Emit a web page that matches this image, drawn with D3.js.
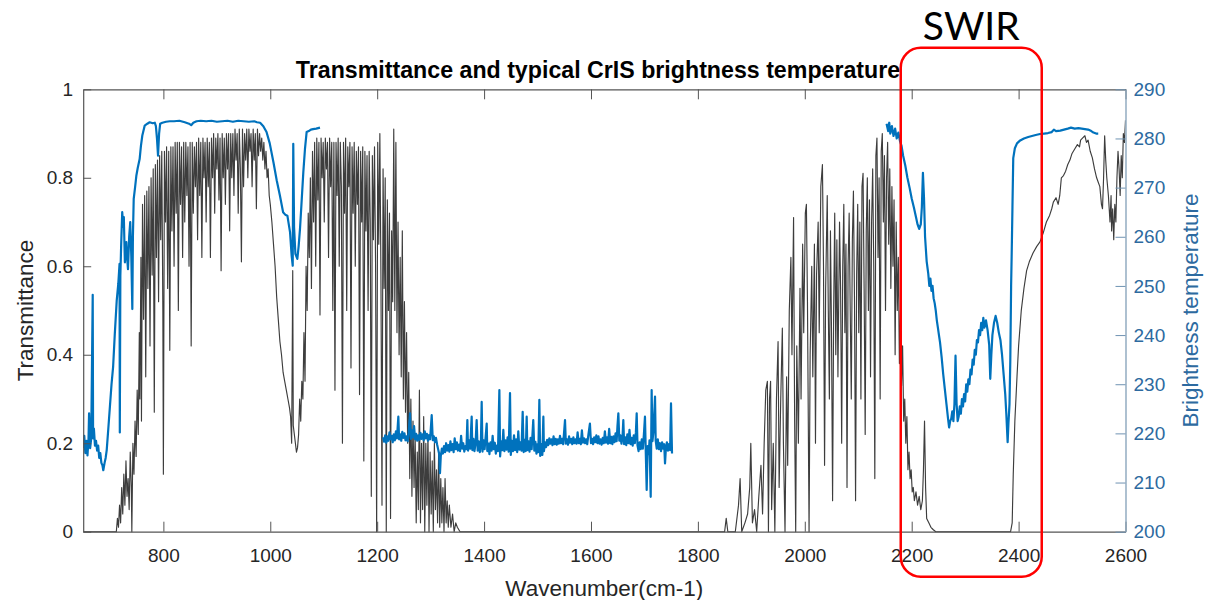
<!DOCTYPE html>
<html><head><meta charset="utf-8">
<script src="https://cdn.jsdelivr.net/npm/d3@7"></script>
<style>body{margin:0;background:#fff} svg{display:block}</style>
</head><body>
<svg id="chart" width="1206" height="600"></svg>
<script>
// ---------------- data ----------------
const titleText = "Transmittance and typical CrIS brightness temperature";
const xLabelText = "Wavenumber(cm-1)";
const yLeftLabelText = "Transmittance";
const yRightLabelText = "Brightness temperature";
const annotationText = "SWIR";
const xDomain = [650, 2600];
const yLeftDomain = [0, 1];
const yRightDomain = [200, 290];
const xTicks = [800, 1000, 1200, 1400, 1600, 1800, 2000, 2200, 2400, 2600];
const yLeftTicks = [0, 0.2, 0.4, 0.6, 0.8, 1];
const yRightTicks = [200, 210, 220, 230, 240, 250, 260, 270, 280, 290];
const swirRange = [2179.5, 2443.3]; // wavenumber span of the SWIR box

// Transmittance [wavenumber, T]
const transmittance = [
[650,0],[710,0],[712,0.0],[714,0.03],[716,0.01],[718,0.06],[720,0.02],[722,0.1],[724,0.04],[726,0.13],[728,0.06],[730,0.16],[732,0.08],[734,0.12],[736,0.05],[738,0.18],[740,0.1],[741,0.0],[743,0.2],[745,0.13],[747,0.25],[749,0.17],[751,0.32],[753,0.22],[755,0.45],[756,0.3],[758,0.62],[759,0.25],[761,0.74],[763,0.48],[765,0.76],[767,0.35],[769,0.77],[771,0.55],[773,0.78],[775,0.42],[777,0.8],[779,0.58],[781,0.82],[783,0.27],[785,0.83],[787,0.62],[789,0.84],[791,0.52],[793,0.85],[795,0.66],[797,0.86],[799,0.5],[800,0.13],
[802,0.86],[804,0.7],[806,0.87],[808,0.55],[810,0.86],[812,0.41],[814,0.87],[816,0.68],[818,0.87],[820,0.6],[822,0.88],[824,0.72],[826,0.88],[828,0.5],[830,0.88],[832,0.74],[834,0.87],[836,0.62],[838,0.88],[840,0.7],[842,0.88],[844,0.76],[846,0.87],[848,0.6],[850,0.88],[852,0.42],[854,0.88],[856,0.72],[858,0.87],[860,0.78],[862,0.88],[864,0.66],[866,0.89],[868,0.76],[870,0.88],[872,0.62],[874,0.89],[876,0.8],[878,0.88],[880,0.7],[882,0.89],[884,0.78],[886,0.88],[888,0.62],[890,0.89],[892,0.8],[894,0.9],[896,0.72],[898,0.89],[900,0.82],
[902,0.9],[904,0.75],[906,0.89],[908,0.59],[910,0.9],[912,0.8],[914,0.89],[916,0.74],[918,0.9],[920,0.82],[922,0.9],[924,0.68],[926,0.9],[928,0.8],[930,0.9],[932,0.76],[934,0.91],[936,0.84],[938,0.9],[940,0.72],[942,0.91],[944,0.82],[946,0.61],[948,0.91],[950,0.78],[952,0.9],[954,0.84],[956,0.91],[958,0.8],[960,0.91],[962,0.86],[964,0.9],[966,0.78],[968,0.91],[970,0.84],[972,0.9],[974,0.73],[976,0.91],[978,0.85],[980,0.9],[982,0.86],[984,0.89],[986,0.84],[988,0.88],[990,0.82],[992,0.86],[994,0.8],[996,0.82],[998,0.76],[1000,0.74],
[1003,0.7],[1006,0.65],[1009,0.6],[1012,0.53],[1015,0.48],[1018,0.43],[1021,0.4],[1024,0.36],[1027,0.34],[1030,0.32],[1033,0.3],[1036,0.28],[1038,0.26],[1040,0.2],[1042,0.59],[1043,0.24],[1045,0.22],[1047,0.2],[1049,0.18],[1051,0.19],[1053,0.22],[1055,0.3],[1057,0.25],[1059,0.34],[1061,0.3],[1063,0.45],[1065,0.34],[1067,0.6],[1069,0.5],[1071,0.72],[1073,0.62],[1075,0.8],[1077,0.55],[1079,0.86],[1081,0.7],[1083,0.88],
[1085,0.6],[1087,0.89],[1089,0.75],[1091,0.88],[1093,0.49],[1095,0.89],[1097,0.8],[1099,0.88],[1101,0.7],[1103,0.89],[1105,0.82],[1107,0.88],[1109,0.62],[1111,0.89],[1113,0.78],[1115,0.88],[1117,0.5],[1119,0.88],[1121,0.32],[1123,0.88],[1125,0.76],[1127,0.89],[1129,0.6],[1131,0.88],[1133,0.78],[1135,0.2],[1137,0.88],[1139,0.72],[1141,0.89],[1143,0.5],[1145,0.87],[1147,0.78],[1149,0.88],[1151,0.37],[1153,0.87],[1155,0.72],[1157,0.88],[1159,0.6],[1161,0.86],[1163,0.74],[1165,0.87],[1167,0.31],[1169,0.86],[1171,0.7],[1173,0.87],[1175,0.16],[1177,0.86],[1179,0.68],[1181,0.85],[1183,0.5],[1185,0.86],[1187,0.7],[1189,0.08],[1191,0.85],[1193,0.66],[1195,0.87],[1197,0.6],[1199,0.0],
[1201,0.88],[1203,0.65],[1205,0.9],[1207,0.58],[1209,0.06],[1211,0.82],[1213,0.55],[1215,0.8],[1217,0.0],[1219,0.75],[1221,0.5],[1223,0.72],[1225,0.03],[1227,0.68],[1229,0.52],[1231,0.91],[1233,0.5],[1235,0.88],[1237,0.45],[1239,0.7],[1241,0.4],[1243,0.62],[1245,0.35],[1247,0.68],[1249,0.3],[1251,0.52],[1253,0.27],[1255,0.45],[1257,0.2],[1259,0.36],[1261,0.12],[1263,0.3],[1265,0.08],[1267,0.25],[1269,0.1],[1271,0.22],[1273,0.02],[1275,0.18],[1277,0.05],[1279,0.32],[1281,0.02],[1283,0.2],[1285,0.05],[1287,0.26],[1289,0.0],[1291,0.2],[1293,0.06],[1295,0.22],[1297,0.0],[1299,0.18],
[1301,0.04],[1303,0.16],[1305,0.0],[1307,0.2],[1309,0.05],[1311,0.14],[1313,0.02],[1315,0.18],[1317,0.01],[1319,0.12],[1321,0.02],[1323,0.1],[1325,0.0],[1327,0.12],[1329,0.02],[1331,0.07],[1333,0.01],[1335,0.06],[1338,0.01],[1341,0.04],[1344,0.0],[1347,0.02],[1350,0.01],[1355,0.0],
[1850,0],[1853,0.03],[1856,0.0],[1870,0.0],[1876,0.06],[1879,0.12],[1882,0.0],[1888,0.02],[1893,0.04],[1897,0.1],[1899,0.2],[1902,0.02],[1906,0.05],[1910,0.0],[1914,0.08],[1918,0.15],[1921,0.04],[1924,0.2],[1927,0.32],[1930,0.34],[1932,0.0],[1934,0.3],[1936,0.34],[1938,0.05],[1941,0.2],[1944,0.0],[1947,0.3],[1950,0.43],[1952,0.1],[1955,0.3],[1958,0.46],[1960,0.2],[1963,0.0],[1966,0.35],[1968,0.15],[1971,0.5],[1974,0.62],[1976,0.4],[1979,0.71],[1981,0.25],[1983,0.0],[1985,0.42],[1988,0.2],[1991,0.55],[1993,0.3],[1996,0.65],[1998,0.45],
[2001,0.72],[2003,0.74],[2005,0.52],[2008,0.0],[2010,0.4],[2013,0.6],[2015,0.35],[2018,0.65],[2020,0.2],[2022,0.58],[2025,0.7],[2027,0.45],[2030,0.78],[2033,0.83],[2035,0.6],[2037,0.15],[2039,0.55],[2042,0.76],[2044,0.5],[2046,0.3],[2048,0.68],[2050,0.45],[2052,0.07],[2054,0.5],[2056,0.72],[2058,0.4],[2060,0.66],[2062,0.35],[2065,0.7],[2067,0.55],[2069,0.2],[2071,0.6],[2073,0.74],[2075,0.45],[2077,0.65],[2079,0.1],[2081,0.6],[2083,0.72],[2085,0.5],[2087,0.3],[2089,0.66],[2091,0.77],[2093,0.52],[2095,0.07],[2097,0.58],[2099,0.74],
[2101,0.45],[2103,0.7],[2105,0.3],[2107,0.78],[2109,0.81],[2111,0.55],[2113,0.22],[2115,0.68],[2117,0.8],[2119,0.5],[2121,0.75],[2123,0.35],[2125,0.7],[2127,0.82],[2129,0.6],[2131,0.12],[2133,0.85],[2135,0.89],[2137,0.62],[2139,0.8],[2141,0.3],[2143,0.86],[2145,0.9],[2147,0.7],[2149,0.85],[2151,0.5],[2153,0.8],[2155,0.88],[2157,0.65],[2159,0.82],[2161,0.55],[2163,0.78],[2165,0.6],[2167,0.75],[2169,0.4],[2171,0.7],[2173,0.5],[2175,0.62],[2177,0.38],[2179,0.5],[2181,0.33],[2183,0.42],[2185,0.25],[2187,0.3],[2189,0.2],[2191,0.26],[2193,0.14],[2195,0.18],[2197,0.12],[2199,0.14],
[2201,0.09],[2203,0.1],[2205,0.07],[2208,0.09],[2211,0.06],[2214,0.08],[2217,0.05],[2220,0.07],[2222,0.14],[2224,0.25],[2226,0.1],[2228,0.03],[2232,0.02],[2236,0.01],[2240,0.005],[2245,0.0],
[2385,0],[2388,0.02],[2390,0.13],[2393,0.25],[2397,0.35],[2400,0.42],[2405,0.5],[2410,0.55],[2415,0.59],[2420,0.61],[2427,0.63],[2434,0.645],[2440,0.655],[2446,0.675],[2452,0.7],[2458,0.715],[2462,0.73],[2465,0.745],[2470,0.755],[2474,0.74],[2477,0.76],[2480,0.8],[2484,0.805],[2488,0.815],[2492,0.83],[2496,0.84],[2500,0.855],[2505,0.865],[2510,0.875],[2514,0.87],[2516,0.885],[2520,0.89],[2524,0.895],[2527,0.88],[2530,0.885],[2534,0.86],[2538,0.845],[2542,0.82],[2546,0.8],[2549,0.79],[2552,0.78],[2555,0.74],[2557,0.73],[2559,0.8],[2561,0.895],[2563,0.84],[2565,0.8],[2568,0.76],[2571,0.7],[2573,0.76],[2574,0.68],[2576,0.73],[2578,0.66],[2580,0.74],[2582,0.7],[2584,0.8],[2586,0.86],[2588,0.82],[2590,0.76],[2592,0.85],[2594,0.8],[2596,0.9],[2598,0.88],[2600,0.93]
];

// Brightness temperature segments [wavenumber, K]
const btLongwave = [
[650,217],[652,219.5],[654,216],[656,218.5],[658,215.5],[660,219],[661,224.1],[663,217],[665,219],[667.8,248.2],[668.5,219],[670,221],[672,217.5],[674,218.5],[676,216.5],[678,217.5],[680,215],[682,216],[684,214],[686,213.5],[687.6,212.5],[690,214],[692,215],[694,216.6],[697,221],[700,225.5],[703,230],[706,233.6],[709,240],[712.7,247],[715.7,250.5],[718,254.5],[718.5,220.2],[719.5,252],[721,258.2],[723,265],[725,262],[726,264],[728,254.8],[730.7,258.9],[732,256],[733.8,253.4],[736,260],[738,263],[740,256],[741.9,245.3],[743,260],[744.5,267.7],[747,270],[749.4,272.4],[752,274],[755.6,275.8],[758,278.5],[760.6,280.6],[765,282.6],[770,283],[774.4,283.3],[780,283.1],[784,283.2],[786,282.5],[788,280],[790,276.5],[792,281],[794,283],[798,283.2],[805,283.4],[812,283.5],[820,283.5],[830,283.6],[840,283.3],[848,283],[852,282.7],[856,283.2],[862,283.5],[870,283.6],[880,283.5],[890,283.6],[900,283.4],[910,283.5],[920,283.6],[930,283.4],[940,283.6],[950,283.5],[960,283.4],[970,283.5],[975,283.3],[981,283.2],[987,282.5],[993,281.3],[999,279],[1006,275.1],[1012,271.5],[1018,268.4],[1024,265],[1028,264.5],[1032,264.3],[1037,260.9],[1040,256.1],[1042,254.1],[1043,278.9],[1044.5,262],[1047,256.5],[1050.6,255.5],[1053,258],[1055.6,261.6],[1058,266],[1061.8,273.1],[1065,278],[1068,281.3],[1072,281.5],[1076,281.8],[1080,281.9],[1086,282],[1093,282.2]
];
const btMidwave = [
[1211,219.2],[1213,218.3],[1215,219.6],[1217,218.1],[1219,219.4],[1221,218.5],[1223,220.2],[1225,218.8],[1227,219.5],[1229,218.2],[1231,219.8],[1233,218.6],[1235,220.4],[1237,219],[1239.6,223.4],[1241,218.8],[1243,219.8],[1245,218.5],[1247,220.3],[1249,219.1],[1251,220],[1253,218.6],[1255,219.4],[1257,218.4],[1259,220.2],[1261.4,224.1],[1263,218.9],[1265,220.6],[1267,219.2],[1269,221.5],[1271,218.8],[1273,219.9],[1275,218.5],[1277,219.6],[1279,218.7],[1281,220.1],[1283,218.9],[1285,219.8],[1287,218.6],[1289,220.4],[1291,219],[1293,219.9],[1295,218.5],[1297,219.6],[1299,218.8],[1302,223.7],[1304,218.6],[1306,219.4],[1308,218.2],[1310,219.1],[1312,217.8],[1314,216.8],[1316,215.8],[1317.5,211.9],[1319,215.4],[1321,216.9],[1323,215.9],[1325,217.4],[1327,216.2],[1329,218],[1331,216.5],[1333,217.6],[1335,216.3],[1337,218.4],[1339,216.6],[1341,217.8],[1343,216.2],[1345,219],[1347,216.8],[1349,218.2],[1351,216.5],[1353,217.7],[1355,216.4],[1357,219.5],[1359,216.9],[1361,218],[1363,216.3],[1365,217.4],[1367,216.8],[1368.7,222.7],[1370,216.5],[1372,218.6],[1374,216.9],[1376.8,223.4],[1378,216.6],[1380,218.9],[1382,216.4],[1384,217.9],[1386.1,222.7],[1388,216.5],[1390,218.4],[1392,216.2],[1394,217.8],[1395.5,226.4],[1397,216.3],[1399,218.6],[1401,216.8],[1403,219.4],[1404.9,222],[1406,216.4],[1408,217.9],[1410,215.8],[1412,218.2],[1414,216.5],[1416,219.5],[1418,216.8],[1420,218.1],[1422,215.9],[1424,217.5],[1426,216.4],[1428.6,228.8],[1430,215.3],[1432,218.4],[1434,216.6],[1436,220.7],[1438,216.4],[1440,218.6],[1442,216.7],[1444,219.2],[1446,216.3],[1448.5,228.2],[1450,215.6],[1452,218.5],[1454,216.4],[1456,219.6],[1458,216.6],[1460,218.8],[1462,216.2],[1464,220.4],[1466,216.7],[1468,218.2],[1470,216.5],[1472.2,224.4],[1474,216.2],[1476,218.7],[1478,216.4],[1479.7,223.4],[1481,216.6],[1483,218.4],[1485,216.3],[1487,219.1],[1489,216.8],[1492,222.7],[1494,216.5],[1496,218.3],[1498,215.9],[1500,217.8],[1501.5,216.2],[1503.4,226.8],[1505,215.4],[1507,217.8],[1509,215.6],[1510.9,223.4],[1512,216.4],[1514,218.2],[1516,217.2],[1518,218.7],[1520,217.6],[1522,219],[1524,217.9],[1526,218.8],[1528,217.6],[1530,219.4],[1532,217.8],[1534,218.9],[1536,217.7],[1538,218.8],[1540,217.9],[1542,219.5],[1544,218],[1546,218.9],[1548,217.8],[1551.4,222.7],[1553,217.9],[1555,218.8],[1557,217.7],[1559,219.4],[1561,218.1],[1563,218.9],[1565,217.8],[1567,219.2],[1569,218],[1571,218.8],[1573,217.9],[1575,220.2],[1577,218],[1579,218.9],[1581,217.8],[1583,220.6],[1585,218.1],[1587,219],[1589,218],[1591,218.8],[1593,217.8],[1595,219.6],[1598,222],[1600,218],[1602,218.9],[1604,217.8],[1606,219.2],[1608,218.2],[1610,219.6],[1612,218],[1614,219.4],[1616,217.9],[1618,218.8],[1620,217.7],[1622,219.1],[1624,218],[1626,220.4],[1628,218.1],[1630,219.2],[1632,217.9],[1634,220.9],[1636,218],[1638,219.3],[1640,217.8],[1642,219.4],[1644,218.2],[1646,220],[1648,218.4],[1649.5,221.4],[1651.2,224.1],[1653,218.5],[1655,219.6],[1657,217.9],[1659,219.3],[1660.5,222.7],[1662,217.8],[1664,219.2],[1666,217.6],[1668,219.8],[1670,218],[1672,220.7],[1674,217.8],[1676,219.1],[1678,217.5],[1680,219.6],[1682,218],[1684,220.2],[1685.5,224.1],[1687,217.6],[1689,216.4],[1691,218.2],[1693,216.8],[1695,218.8],[1697,216.9],[1699,219.8],[1701,223.4],[1702.5,216.2],[1704.2,208.5],[1706,217.4],[1708,215.8],[1709.5,218.6],[1711.7,207.1],[1713.5,228.8],[1715,218.4],[1717,220.5],[1719.8,227.5],[1721,218.6],[1723,216.9],[1725,218.8],[1727,216.8],[1729,218],[1731,216.4],[1733,218.2],[1735,216.9],[1737,217.8],[1738.5,213.9],[1740,216.7],[1742,218.2],[1744,216.5],[1746,217.8],[1748,216.6],[1749.7,226.1],[1751.6,215.9]
];
const btShortwave = [
[2153,283],[2156,281.5],[2158,283.2],[2160,281],[2163,282.5],[2166,280.5],[2169,282],[2172,280],[2175,281.2],[2178,279.5],[2181,278.5],[2184,276.5],[2188,274.5],[2192,272],[2196,270],[2200,267.8],[2204,266],[2208,264],[2211,262.5],[2214,261.6],[2217,262.5],[2219,266],[2221,273],[2223,268],[2225,260],[2228,255],[2231,252.5],[2233,250],[2235,251.5],[2237,249],[2239,250],[2241,247.5],[2243,246.5],[2245,245],[2247,243],[2249,241.5],[2251,240],[2253,238.5],[2256,235.5],[2259,232],[2262,229],[2265,226],[2268,223],[2270,221.2],[2272,222.5],[2274,223],[2276,224.5],[2278,222.5],[2280,226],[2282,235.8],[2284,226],[2286,222.5],[2288,223.5],[2290,225.5],[2292,224],[2294,227],[2296,225.5],[2298,228],[2300,226.5],[2302,230],[2304,228.5],[2306,231],[2308,230],[2310,233],[2312,232],[2314,235],[2316,234],[2318,237],[2320,236],[2322,239],[2324,238.5],[2326,241],[2328,240],[2330,242.5],[2332,241],[2334,243.5],[2336,241.5],[2339,243],[2342,241],[2345,238],[2347,231.1],[2349,236],[2351,240],[2354,242.5],[2357,243.9],[2360,242.5],[2363,240.5],[2366,239],[2369,236],[2372,232],[2375,228],[2377,224],[2379.5,218.2],[2381,222],[2383,226],[2384.5,235],[2386,250],[2387,256],[2388.5,266],[2390,276],[2393,278],[2397,279],[2403,279.6],[2410,280],[2418,280.3],[2425,280.5],[2432,280.7],[2440,280.9],[2448,281],[2455,281.1],[2462,281.3],[2466,281.8],[2470,281.5],[2478,281.6],[2485,281.8],[2492,282],[2498,282.2],[2505,282],[2512,282.1],[2518,282],[2524,281.9],[2530,281.8],[2536,281.5],[2540,281.2],[2545,281],[2549,281]
];

// ---------------- drawing ----------------
const svg = d3.select("#chart");
const plot = {left: 83.2, right: 1125.5, top: 89.3, bottom: 531.7};
const font = "'Liberation Sans', Arial, Helvetica, sans-serif";
const axisGrey = "#555555";
const rightBlue = "#2d6aa0";
const lineBlue = "#0072BD";

const x = d3.scaleLinear().domain(xDomain).range([plot.left, plot.right]);
const yL = d3.scaleLinear().domain(yLeftDomain).range([plot.bottom, plot.top]);
const yR = d3.scaleLinear().domain(yRightDomain).range([plot.bottom, plot.top]);

svg.append("rect").attr("width", 1206).attr("height", 600).attr("fill", "#fff");

svg.append("defs").append("clipPath").attr("id", "clip")
  .append("rect").attr("x", plot.left).attr("y", plot.top - 2)
  .attr("width", plot.right - plot.left).attr("height", plot.bottom - plot.top + 3);

const g = svg.append("g").attr("clip-path", "url(#clip)");

const lineT = d3.line().x(d => x(d[0])).y(d => yL(d[1]));
const lineB = d3.line().x(d => x(d[0])).y(d => yR(d[1]));

g.append("path").datum(transmittance).attr("d", lineT)
  .attr("fill", "none").attr("stroke", "#3d3d3d").attr("stroke-width", 1.15).attr("stroke-linejoin", "round");

[btLongwave, btMidwave, btShortwave].forEach(seg => {
  g.append("path").datum(seg).attr("d", lineB)
    .attr("fill", "none").attr("stroke", lineBlue).attr("stroke-width", 2.2).attr("stroke-linejoin", "round");
});

// axes
const fmt = d3.format("~g");
const bottomAxis = svg.append("g").attr("transform", `translate(0,${plot.bottom})`)
  .call(d3.axisBottom(x).tickValues(xTicks).tickSize(-10).tickSizeOuter(0).tickPadding(17).tickFormat(fmt));
const topAxis = svg.append("g").attr("transform", `translate(0,${plot.top})`)
  .call(d3.axisTop(x).tickValues(xTicks).tickSize(-10).tickSizeOuter(0).tickFormat(""));
const leftAxis = svg.append("g").attr("transform", `translate(${plot.left},0)`)
  .call(d3.axisLeft(yL).tickValues(yLeftTicks).tickSize(-8).tickSizeOuter(0).tickPadding(10).tickFormat(fmt));
const rightAxis = svg.append("g").attr("transform", `translate(${plot.right},0)`)
  .call(d3.axisRight(yR).tickValues(yRightTicks).tickSize(-10).tickSizeOuter(0).tickPadding(8).tickFormat(fmt));

[bottomAxis, topAxis, leftAxis].forEach(a => {
  a.selectAll("path.domain").attr("stroke", axisGrey).attr("stroke-width", 1.2);
  a.selectAll(".tick line").attr("stroke", axisGrey).attr("stroke-width", 1);
  a.selectAll(".tick text").attr("fill", "#262626").style("font-family", font).style("font-size", "19px");
});
rightAxis.selectAll("path.domain").attr("stroke", "#8ba6bd").attr("stroke-width", 1.4);
rightAxis.selectAll(".tick line").attr("stroke", "#6f93b3").attr("stroke-width", 1);
rightAxis.selectAll(".tick text").attr("fill", rightBlue).style("font-family", font).style("font-size", "19px");

// labels
svg.append("text").attr("x", 598).attr("y", 78).attr("text-anchor", "middle")
  .style("font-family", font).style("font-size", "23.2px").style("font-weight", "bold").attr("fill", "#000")
  .text(titleText);
svg.append("text").attr("x", (plot.left + plot.right) / 2).attr("y", 596).attr("text-anchor", "middle")
  .style("font-family", font).style("font-size", "22.5px").attr("fill", "#262626").text(xLabelText);
svg.append("text").attr("transform", `translate(33,${(plot.top + plot.bottom) / 2}) rotate(-90)`)
  .attr("text-anchor", "middle")
  .style("font-family", font).style("font-size", "22.5px").attr("fill", "#262626").text(yLeftLabelText);
svg.append("text").attr("transform", `translate(1198,${(plot.top + plot.bottom) / 2}) rotate(-90)`)
  .attr("text-anchor", "middle")
  .style("font-family", font).style("font-size", "22.5px").attr("fill", rightBlue).text(yRightLabelText);

// SWIR annotation
svg.append("rect")
  .attr("x", x(swirRange[0])).attr("y", 47.7)
  .attr("width", x(swirRange[1]) - x(swirRange[0])).attr("height", 576.7 - 47.7)
  .attr("rx", 20).attr("ry", 20)
  .attr("fill", "none").attr("stroke", "#ff0000").attr("stroke-width", 2.5);
svg.append("text").attr("x", (x(swirRange[0]) + x(swirRange[1])) / 2).attr("y", 39.5)
  .attr("text-anchor", "middle")
  .style("font-family", "Lato, 'Open Sans', sans-serif").style("font-size", "39px").attr("fill", "#000")
  .text(annotationText);
</script>
</body></html>
